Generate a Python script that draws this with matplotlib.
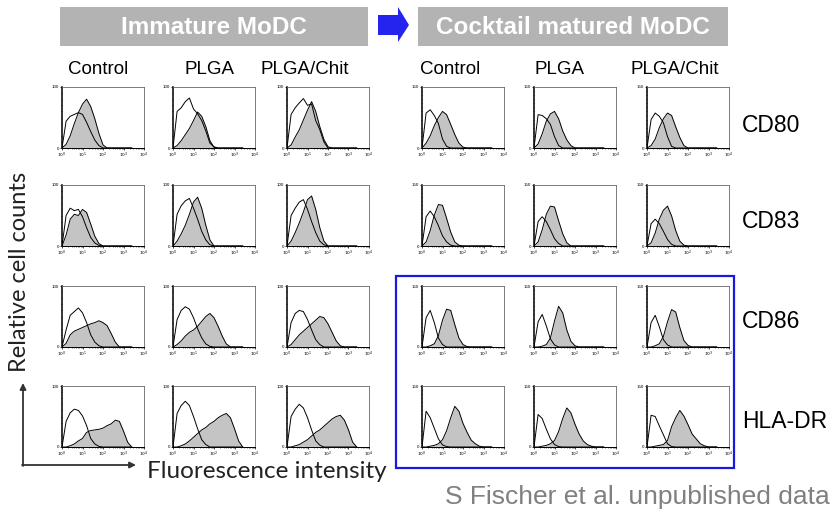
import matplotlib
matplotlib.use('Agg')
import matplotlib.pyplot as plt
from matplotlib.patches import Rectangle, Polygon
from matplotlib.ticker import FixedLocator, MultipleLocator, NullFormatter

plt.rcParams['font.family'] = ['Liberation Sans', 'DejaVu Sans']

# channel position of each reading, in decades (10^0 .. 10^3.4)
decades = [0.0, 0.2, 0.4, 0.6, 0.8, 1.0, 1.2, 1.4, 1.6, 1.8,
           2.0, 2.2, 2.4, 2.6, 2.8, 3.0, 3.2, 3.4]

stages = ['Immature MoDC', 'Cocktail matured MoDC']
conditions = ['Control', 'PLGA', 'PLGA/Chit']
markers = ['CD80', 'CD83', 'CD86', 'HLA-DR']
stage_ymax = [100, 150]

# per marker: six panels (immature Control/PLGA/PLGA-Chit, matured Control/PLGA/PLGA-Chit)
# open = isotype control outline, fill = marker staining (grey)
cd80_open = [
    [0, 44, 52, 55, 58, 55, 42, 27, 13, 4, 0, 0, 0, 0, 0, 0, 0, 0],
    [0, 60, 66, 76, 82, 64, 56, 45, 28, 8, 2, 0, 0, 0, 0, 0, 0, 0],
    [0, 55, 66, 74, 81, 70, 72, 45, 30, 10, 0, 0, 0, 0, 0, 0, 0, 0],
    [0, 86, 94, 80, 60, 22, 4, 0, 0, 0, 0, 0, 0, 0, 0, 0, 0, 0],
    [0, 82, 80, 72, 58, 28, 6, 0, 0, 0, 0, 0, 0, 0, 0, 0, 0, 0],
    [0, 70, 86, 78, 62, 28, 4, 0, 0, 0, 0, 0, 0, 0, 0, 0, 0, 0],
]
cd80_fill = [
    [0, 6, 20, 40, 58, 72, 80, 68, 48, 24, 5, 0, 0, 0, 0, 0, 0, 0],
    [0, 4, 12, 22, 32, 45, 59, 52, 35, 12, 1, 0, 0, 0, 0, 0, 0, 0],
    [0, 5, 18, 30, 46, 62, 76, 60, 35, 14, 2, 0, 0, 0, 0, 0, 0, 0],
    [0, 12, 30, 55, 75, 90, 82, 58, 33, 12, 2, 0, 0, 0, 0, 0, 0, 0],
    [0, 10, 35, 66, 84, 90, 72, 42, 20, 6, 0, 0, 0, 0, 0, 0, 0, 0],
    [0, 6, 22, 50, 72, 86, 80, 52, 26, 6, 0, 0, 0, 0, 0, 0, 0, 0],
]
cd83_open = [
    [0, 50, 62, 58, 60, 48, 30, 14, 5, 1, 0, 0, 0, 0, 0, 0, 0, 0],
    [0, 52, 66, 74, 78, 62, 44, 24, 10, 2, 0, 0, 0, 0, 0, 0, 0, 0],
    [0, 50, 62, 72, 76, 60, 40, 22, 8, 2, 0, 0, 0, 0, 0, 0, 0, 0],
    [0, 72, 86, 72, 50, 25, 10, 2, 0, 0, 0, 0, 0, 0, 0, 0, 0, 0],
    [0, 60, 72, 60, 40, 18, 6, 0, 0, 0, 0, 0, 0, 0, 0, 0, 0, 0],
    [0, 55, 66, 55, 36, 16, 4, 0, 0, 0, 0, 0, 0, 0, 0, 0, 0, 0],
]
cd83_fill = [
    [0, 18, 44, 52, 50, 60, 55, 36, 16, 4, 0, 0, 0, 0, 0, 0, 0, 0],
    [0, 8, 20, 34, 52, 72, 80, 62, 34, 10, 0, 0, 0, 0, 0, 0, 0, 0],
    [0, 8, 22, 38, 56, 76, 82, 60, 30, 8, 0, 0, 0, 0, 0, 0, 0, 0],
    [0, 10, 38, 76, 102, 100, 68, 34, 10, 2, 0, 0, 0, 0, 0, 0, 0, 0],
    [0, 10, 40, 78, 98, 96, 62, 30, 8, 0, 0, 0, 0, 0, 0, 0, 0, 0],
    [0, 8, 32, 66, 88, 98, 74, 38, 12, 2, 0, 0, 0, 0, 0, 0, 0, 0],
]
cd86_open = [
    [0, 28, 52, 58, 64, 56, 40, 20, 8, 2, 0, 0, 0, 0, 0, 0, 0, 0],
    [0, 45, 60, 66, 62, 48, 30, 15, 5, 1, 0, 0, 0, 0, 0, 0, 0, 0],
    [0, 40, 55, 60, 58, 45, 28, 12, 4, 0, 0, 0, 0, 0, 0, 0, 0, 0],
    [0, 72, 90, 60, 22, 6, 0, 0, 0, 0, 0, 0, 0, 0, 0, 0, 0, 0],
    [0, 62, 80, 52, 20, 5, 0, 0, 0, 0, 0, 0, 0, 0, 0, 0, 0, 0],
    [0, 60, 78, 50, 18, 5, 0, 0, 0, 0, 0, 0, 0, 0, 0, 0, 0, 0],
]
cd86_fill = [
    [0, 6, 20, 26, 29, 32, 35, 38, 40, 43, 40, 35, 22, 8, 0, 0, 0, 0],
    [0, 4, 10, 18, 24, 28, 34, 42, 50, 55, 48, 34, 18, 5, 0, 0, 0, 0],
    [0, 4, 12, 20, 26, 32, 38, 44, 50, 48, 38, 24, 10, 2, 0, 0, 0, 0],
    [0, 0, 3, 8, 28, 66, 93, 90, 55, 22, 6, 1, 0, 0, 0, 0, 0, 0],
    [0, 0, 2, 6, 22, 64, 100, 84, 42, 14, 3, 0, 0, 0, 0, 0, 0, 0],
    [0, 0, 3, 8, 26, 62, 92, 86, 48, 16, 4, 0, 0, 0, 0, 0, 0, 0],
]
hladr_open = [
    [0, 42, 56, 62, 60, 51, 35, 14, 5, 1, 0, 0, 0, 0, 0, 0, 0, 0],
    [0, 55, 68, 75, 68, 50, 30, 12, 4, 0, 0, 0, 0, 0, 0, 0, 0, 0],
    [0, 50, 62, 70, 64, 48, 28, 10, 3, 0, 0, 0, 0, 0, 0, 0, 0, 0],
    [0, 88, 72, 46, 20, 5, 1, 0, 0, 0, 0, 0, 0, 0, 0, 0, 0, 0],
    [0, 80, 70, 44, 20, 6, 1, 0, 0, 0, 0, 0, 0, 0, 0, 0, 0, 0],
    [0, 78, 75, 52, 30, 8, 1, 0, 0, 0, 0, 0, 0, 0, 0, 0, 0, 0],
]
hladr_fill = [
    [0, 0, 2, 5, 10, 14, 24, 27, 28, 29, 31, 35, 38, 44, 42, 26, 8, 0],
    [0, 0, 2, 5, 10, 16, 22, 28, 32, 38, 42, 48, 52, 55, 48, 30, 10, 0],
    [0, 0, 2, 4, 8, 12, 18, 24, 28, 34, 40, 46, 50, 52, 44, 28, 8, 0],
    [0, 0, 2, 4, 8, 18, 40, 72, 100, 88, 58, 36, 17, 8, 2, 0, 0, 0],
    [0, 0, 2, 4, 8, 16, 38, 70, 96, 84, 56, 32, 15, 6, 2, 0, 0, 0],
    [0, 0, 2, 4, 6, 16, 50, 72, 90, 76, 55, 32, 20, 8, 3, 0, 0, 0],
]

open_curves = [cd80_open, cd83_open, cd86_open, hladr_open]
fill_curves = [cd80_fill, cd83_fill, cd86_fill, hladr_fill]

W, H = 835, 512
fig = plt.figure(figsize=(W / 100, H / 100), dpi=100)

# overlay in pixel coordinates for the decorations
ov = fig.add_axes([0, 0, 1, 1])
ov.set_xlim(0, W)
ov.set_ylim(H, 0)
ov.axis('off')

col_left = [62, 173, 287, 422, 534, 647]
row_top = [87, 185, 286, 386]
pw, ph = 82, 61

xs = [10 ** d for d in decades]

for r in range(4):
    for c in range(6):
        ax = fig.add_axes([col_left[c] / W, 1 - (row_top[r] + ph) / H, pw / W, ph / H])
        ymax = stage_ymax[c // 3]
        fill = fill_curves[r][c]
        opn = open_curves[r][c]
        ax.fill_between(xs, fill, color='#c4c4c4', lw=0)
        ax.plot(xs, fill, color='black', lw=0.7)
        ax.plot(xs, opn, color='black', lw=0.7)
        ax.set_xscale('log')
        ax.set_xlim(1, 1e4)
        ax.set_ylim(0, ymax)
        ax.xaxis.set_major_locator(FixedLocator([1, 10, 100, 1000, 10000]))
        ax.set_xticklabels(['$10^0$', '$10^1$', '$10^2$', '$10^3$', '$10^4$'])
        ax.xaxis.set_minor_formatter(NullFormatter())
        ax.set_yticks([0, ymax])
        ax.set_yticklabels(['0', str(ymax)])
        ax.yaxis.set_minor_locator(MultipleLocator(10))
        ax.tick_params(which='major', labelsize=3.2, length=1.5, width=0.5, pad=0.6)
        ax.tick_params(which='minor', length=0.9, width=0.4)
        for s in ['top', 'right']:
            ax.spines[s].set_linewidth(0.6)
            ax.spines[s].set_color('#666666')
        ax.spines['left'].set_linewidth(1.1)
        ax.spines['bottom'].set_linewidth(0.7)

# stage header boxes and arrow
ov.add_patch(Rectangle((60, 7), 308, 39, color='#b3b3b3', lw=0))
ov.add_patch(Rectangle((418, 7), 310, 39, color='#b3b3b3', lw=0))
ov.text(214, 27, stages[0], color='white', fontsize=17.5, fontweight='bold', ha='center', va='center')
ov.text(573, 27, stages[1], color='white', fontsize=17.5, fontweight='bold', ha='center', va='center')
ov.add_patch(Polygon([(378, 15), (398, 15), (398, 7), (409, 25), (398, 42), (398, 35), (378, 35)],
                     closed=True, color='#2424ee', lw=0))

# condition headers
head_x = [98, 210, 305, 450, 560, 675]
for c in range(6):
    ov.text(head_x[c], 70, conditions[c % 3], fontsize=13.5, ha='center', va='center')

# marker labels
row_label_y = [125, 221, 322, 422]
for r in range(4):
    ov.text(742, row_label_y[r], markers[r], fontsize=16.5, ha='left', va='center')

# matured CD86 / HLA-DR highlight box
ov.add_patch(Rectangle((396, 276), 338, 192, fill=False, edgecolor='#1a1adf', lw=1.6))

# axis arrows and titles
ov.annotate('', xy=(23, 383), xytext=(23, 466),
            arrowprops=dict(arrowstyle='-|>', color='#333333', lw=1.3, mutation_scale=9, shrinkA=0, shrinkB=0))
ov.annotate('', xy=(136, 465), xytext=(22, 465),
            arrowprops=dict(arrowstyle='-|>', color='#333333', lw=1.3, mutation_scale=9, shrinkA=0, shrinkB=0))
ov.text(20, 272, 'Relative cell counts', rotation=90, fontsize=17, color='#222222',
        ha='center', va='center', family=['Lato', 'DejaVu Sans'])
ov.text(147, 471, 'Fluorescence intensity', fontsize=17.5, color='#222222',
        ha='left', va='center', family=['Lato', 'DejaVu Sans'])
ov.text(830, 497, 'S Fischer et al. unpublished data', fontsize=19, color='#808080',
        ha='right', va='center')

fig.savefig('out.png', dpi=100)
